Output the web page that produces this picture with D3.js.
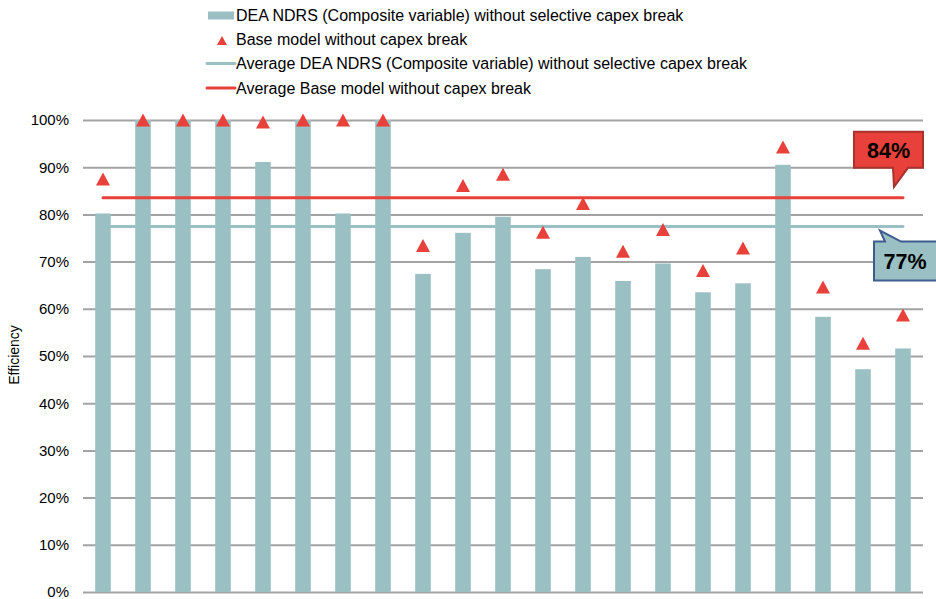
<!DOCTYPE html>
<html>
<head>
<meta charset="utf-8">
<script src="https://cdn.jsdelivr.net/npm/d3@7"></script>
<style>
  html, body { margin: 0; padding: 0; background: #ffffff; }
  svg { display: block; font-family: "Liberation Sans", Arial, sans-serif; }
</style>
</head>
<body>
<svg id="chart" width="936" height="599"></svg>
<script>
// Efficiency per business, two model variants
const categories = ["1","2","3","4","5","6","7","8","9","10","11","12","13","14","15","16","17","18","19","20","21"];
const deaNdrs = [0.802, 1.000, 1.000, 1.000, 0.911, 1.000, 0.802, 1.000, 0.674, 0.761, 0.795,
                 0.684, 0.710, 0.659, 0.696, 0.635, 0.654, 0.905, 0.583, 0.472, 0.516];
const baseModel = [0.875, 1.000, 1.000, 1.000, 0.996, 1.000, 1.000, 1.000, 0.734, 0.861, 0.885,
                   0.762, 0.823, 0.722, 0.768, 0.681, 0.729, 0.943, 0.646, 0.527, 0.587];
const yTicks = [0, 0.1, 0.2, 0.3, 0.4, 0.5, 0.6, 0.7, 0.8, 0.9, 1.0];
const legendLabels = [
  "DEA NDRS (Composite variable) without selective capex break",
  "Base model without capex break",
  "Average DEA NDRS (Composite variable) without selective capex break",
  "Average Base model without capex break"
];

const colBar = "#9bc0c4";
const colRed = "#e8403a";
const colGrid = "#a3a3a3";

const svg = d3.select("#chart");
const plot = { left: 83, right: 923, top: 120, bottom: 592 };

const x = d3.scaleBand()
  .domain(categories)
  .range([plot.left, plot.right])
  .paddingInner(0.61)
  .paddingOuter(0.305);
const y = d3.scaleLinear().domain([0, 1]).range([plot.bottom, plot.top]);
const cx = c => x(c) + x.bandwidth() / 2;

// triangle marker with its bounding box centred on the value
const triangle = (w, h) => ({
  draw(ctx) {
    ctx.moveTo(-w / 2, h / 2);
    ctx.lineTo(w / 2, h / 2);
    ctx.lineTo(0, -h / 2);
    ctx.closePath();
  }
});

// y axis with gridlines
const yAxis = d3.axisLeft(y)
  .tickValues(yTicks)
  .tickFormat(d3.format(".0%"))
  .tickSize(-(plot.right - plot.left))
  .tickPadding(14);
const gAxis = svg.append("g").attr("transform", `translate(${plot.left},0)`).call(yAxis);
gAxis.select(".domain").remove();
gAxis.selectAll(".tick line").attr("stroke", colGrid).attr("stroke-width", 2);
gAxis.selectAll(".tick text")
  .attr("fill", "#000")
  .style("font-size", "15px")
  .style("font-family", "'Liberation Sans', Arial, sans-serif");

svg.append("text")
  .attr("transform", "translate(19,355) rotate(-90)")
  .attr("text-anchor", "middle")
  .style("font-size", "14px")
  .text("Efficiency");

// bars
svg.append("g").selectAll("rect")
  .data(deaNdrs)
  .join("rect")
  .attr("x", (d, i) => x(categories[i]))
  .attr("y", d => y(d))
  .attr("width", x.bandwidth())
  .attr("height", d => y(0) - y(d))
  .attr("fill", colBar);

// average lines
const avgDea = d3.mean(deaNdrs);
const avgBase = d3.mean(baseModel);
const xStart = cx(categories[0]);
const xEnd = cx(categories[categories.length - 1]);

svg.append("line")
  .attr("x1", xStart).attr("x2", xEnd)
  .attr("y1", y(avgDea)).attr("y2", y(avgDea))
  .attr("stroke", colBar).attr("stroke-width", 3).attr("stroke-linecap", "round");
svg.append("line")
  .attr("x1", xStart).attr("x2", xEnd)
  .attr("y1", y(avgBase)).attr("y2", y(avgBase))
  .attr("stroke", colRed).attr("stroke-width", 3).attr("stroke-linecap", "round");

// base model markers
svg.append("g").selectAll("path")
  .data(baseModel)
  .join("path")
  .attr("transform", (d, i) => `translate(${cx(categories[i])},${y(d)})`)
  .attr("d", d3.symbol(triangle(14, 13))())
  .attr("fill", colRed);

// callouts for the averages
const pct = d3.format(".0%");
function callout(box, tail, fill, stroke, label) {
  const p = d3.path();
  p.moveTo(box.x0, box.y0);
  if (tail.side === "top") {
    p.lineTo(tail.a, box.y0);
    p.lineTo(tail.tx, tail.ty);
    p.lineTo(tail.b, box.y0);
    p.lineTo(box.x1, box.y0);
    p.lineTo(box.x1, box.y1);
    p.lineTo(box.x0, box.y1);
  } else {
    p.lineTo(box.x1, box.y0);
    p.lineTo(box.x1, box.y1);
    p.lineTo(tail.b, box.y1);
    p.lineTo(tail.tx, tail.ty);
    p.lineTo(tail.a, box.y1);
    p.lineTo(box.x0, box.y1);
  }
  p.closePath();
  svg.append("path").attr("d", p.toString())
    .attr("fill", fill).attr("stroke", stroke).attr("stroke-width", 2)
    .attr("stroke-linejoin", "miter");
  svg.append("text")
    .attr("x", (box.x0 + Math.min(box.x1, 936)) / 2)
    .attr("y", (box.y0 + box.y1) / 2 + 8)
    .attr("text-anchor", "middle")
    .style("font-size", "21.5px")
    .style("font-weight", "bold")
    .text(label);
}

const yb = y(avgBase), yd = y(avgDea);
callout({ x0: xEnd - 49, x1: xEnd + 20, y0: yb - 66, y1: yb - 30 },
        { side: "bottom", a: xEnd - 10, b: xEnd + 5, tx: xEnd - 9, ty: yb - 11 },
        colRed, "#a8322c", pct(avgBase));
callout({ x0: xEnd - 29, x1: xEnd + 34, y0: yd + 15, y1: yd + 54 },
        { side: "top", a: xEnd - 18, b: xEnd - 2, tx: xEnd - 23, ty: yd + 4 },
        colBar, "#3d5d8e", pct(avgDea));

// legend
const legend = svg.append("g");
const rowY = [15.5, 39.5, 63.5, 88];
legend.append("rect").attr("x", 208).attr("y", rowY[0] - 4).attr("width", 26).attr("height", 8).attr("fill", colBar);
legend.append("path").attr("transform", `translate(222,${rowY[1] + 1})`)
  .attr("d", d3.symbol(triangle(10, 9))()).attr("fill", colRed);
legend.append("line").attr("x1", 207).attr("x2", 235).attr("y1", rowY[2]).attr("y2", rowY[2])
  .attr("stroke", colBar).attr("stroke-width", 3).attr("stroke-linecap", "round");
legend.append("line").attr("x1", 207).attr("x2", 235).attr("y1", rowY[3]).attr("y2", rowY[3])
  .attr("stroke", colRed).attr("stroke-width", 3).attr("stroke-linecap", "round");
legend.selectAll("text")
  .data(legendLabels)
  .join("text")
  .attr("x", 236)
  .attr("y", (d, i) => rowY[i])
  .attr("dy", "0.36em")
  .style("font-size", "16px")
  .text(d => d);
</script>
</body>
</html>
